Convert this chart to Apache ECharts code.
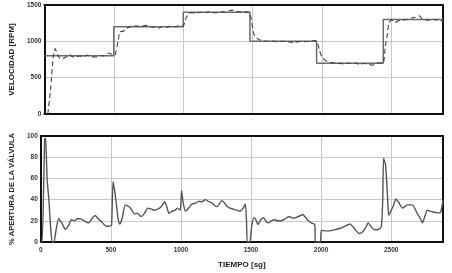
<!DOCTYPE html>
<html>
<head>
<meta charset="utf-8">
<script src="https://cdn.jsdelivr.net/npm/echarts@6/dist/echarts.min.js"></script>
<style>
html,body{margin:0;padding:0;background:#fff;}
#chart{width:452px;height:273px;}
</style>
</head>
<body>
<div id="chart"></div>
<script>
// Setpoint (solid step line)
var setpointTimes = [0, 500, 1000, 1480, 1960, 2440, 2870];
var setpointValues = [800, 1200, 1400, 1000, 700, 1300, 1300];

// Measured speed (dashed)
var speedTimes = [25,45,63,77,95,110,130,160,180,200,225,250,280,310,340,370,400,430,460,495,
  510,530,545,570,590,615,640,670,700,730,760,790,820,850,880,910,940,970,995,
  1010,1020,1040,1060,1090,1120,1150,1180,1210,1240,1270,1300,1330,1360,1390,1420,1450,1475,
  1490,1505,1520,1540,1570,1600,1640,1680,1720,1760,1800,1840,1880,1920,1950,
  1965,1980,2000,2030,2060,2090,2120,2150,2180,2210,2240,2270,2300,2330,2360,2390,2420,2440,
  2455,2470,2480,2500,2525,2550,2580,2610,2640,2665,2700,2720,2740,2770,2800,2830,2850,2870];
var speedValues = [0,350,770,900,820,770,760,790,820,790,780,800,790,810,790,785,805,800,840,815,
  820,1000,1130,1140,1180,1200,1215,1210,1205,1220,1205,1190,1180,1200,1195,1210,1200,1215,1210,
  1250,1320,1380,1395,1385,1400,1390,1405,1395,1395,1410,1400,1420,1430,1410,1405,1405,1395,
  1300,1120,1060,1030,1010,1000,1005,995,1000,990,985,1000,995,1005,1010,
  990,880,780,730,710,705,700,690,700,695,705,680,695,690,670,700,705,700,
  930,1110,1250,1295,1260,1285,1290,1300,1320,1330,1350,1310,1300,1290,1300,1295,1290,1270];

// Valve opening (%)
var valveTimes = [0,10,28,35,45,58,70,82,94,110,128,150,176,200,218,240,260,282,310,340,365,387,410,434,455,469,490,505,
  516,528,540,552,563,580,603,620,634,650,669,690,716,740,763,790,810,835,857,885,900,915,935,960,975,995,
  1005,1015,1033,1055,1080,1103,1127,1150,1174,1200,1220,1244,1260,1291,1310,1326,1350,1373,1400,1420,1445,1460,1468,1474,1491,
  1505,1521,1535,1549,1570,1590,1610,1625,1645,1667,1690,1713,1740,1772,1800,1820,1854,1866,1885,1901,1930,1955,1960,1995,
  2002,2040,2080,2110,2140,2171,2206,2230,2254,2270,2300,2320,2336,2360,2382,2410,2430,2440,2446,2460,2474,2483,
  2500,2512,2535,2555,2582,2617,2652,2675,2688,2710,2723,2740,2758,2793,2830,2852,2865,2870];
var valveValues = [0,0,97,98,60,40,15,0,0,12,22,18,12,16,21,20,22,22,20,18,22,25,22,19,16,14.8,15,16,
  57,48,35,22,17,22,35,34,33,30,26.5,27,24,27,32,31,30,31,33,38,33,27,29,30,32,30,
  48.6,38,29,32,36,36.5,38.3,38,40,38,37,34,33.5,39,37,34,32,31,30,29,32,36,20,0,0,
  15,23,21,16.5,21,23,19,18,20,21,20,20,21.5,24,22.5,23,25,26,24,21,18,16.4,0,0,
  10.8,10.5,11,12,13,15,17,14,10,8,10,14,18,14,11.5,12,14.8,40,79,73,43,25,
  30,33,40.5,37,32,35,35,30,26.5,22,18,24,30,28.5,27.5,28,35,40];

var speedYTicks = [0, 500, 1000, 1500];
var valveYTicks = [0, 20, 40, 60, 80, 100];
var timeTicks = [0, 500, 1000, 1500, 2000, 2500];
var timeMax = 2870;

function pairs(xs, ys) { return xs.map(function (x, i) { return [x, ys[i]]; }); }

var font = 'Liberation Sans, Arial, sans-serif';
var labelStyle = { fontFamily: font, fontSize: 6.5, fontWeight: 'bold', color: '#333',
  formatter: function (v) { return String(v); } };
var gridLine = { show: true, lineStyle: { color: '#c8c8c8', width: 1 } };
var frame = { show: true, onZero: false, lineStyle: { color: '#111', width: 2 } };
var nameStyle = { fontFamily: font, fontSize: 8, fontWeight: 'bold', color: '#222' };

function frameAxis(grid, pos, min, max) {
  return { gridIndex: grid, type: 'value', position: pos, min: min, max: max,
    axisLine: frame, axisTick: { show: false }, axisLabel: { show: false }, splitLine: { show: false } };
}

var chart = echarts.init(document.getElementById('chart'), null, { renderer: 'canvas' });
chart.setOption({
  animation: false,
  backgroundColor: '#fff',
  grid: [
    { left: 35, right: 9, top: 5, height: 109 },
    { left: 35, right: 9, top: 136, height: 106 }
  ],
  xAxis: [
    { gridIndex: 0, type: 'value', position: 'bottom', min: 0, max: timeMax, interval: timeTicks[1] - timeTicks[0],
      axisLine: frame, axisTick: { show: false }, axisLabel: { show: false }, splitLine: gridLine },
    { gridIndex: 1, type: 'value', position: 'bottom', min: 0, max: timeMax, interval: timeTicks[1] - timeTicks[0],
      axisLine: frame, axisTick: { show: false },
      axisLabel: Object.assign({ margin: 5, showMaxLabel: false }, labelStyle),
      splitLine: gridLine,
      name: 'TIEMPO [sg]', nameLocation: 'middle', nameGap: 19, nameTextStyle: nameStyle },
    frameAxis(0, 'top', 0, timeMax),
    frameAxis(1, 'top', 0, timeMax)
  ],
  yAxis: [
    { gridIndex: 0, type: 'value', position: 'left', min: speedYTicks[0], max: speedYTicks[speedYTicks.length - 1], interval: 500,
      axisLine: frame, axisTick: { show: false },
      axisLabel: Object.assign({ margin: 3 }, labelStyle), splitLine: gridLine,
      name: 'VELOCIDAD [RPM]', nameLocation: 'middle', nameGap: 23, nameTextStyle: nameStyle },
    { gridIndex: 1, type: 'value', position: 'left', min: valveYTicks[0], max: valveYTicks[valveYTicks.length - 1], interval: 20,
      axisLine: frame, axisTick: { show: false },
      axisLabel: Object.assign({ margin: 3 }, labelStyle), splitLine: gridLine,
      name: '% APERTURA DE LA VÁLVULA', nameLocation: 'middle', nameGap: 23,
      nameTextStyle: Object.assign({}, nameStyle, { fontSize: 7.5 }) },
    frameAxis(0, 'right', 0, 1500),
    frameAxis(1, 'right', 0, 100)
  ],
  series: [
    { type: 'line', xAxisIndex: 0, yAxisIndex: 0, step: 'end', showSymbol: false,
      data: pairs(setpointTimes, setpointValues),
      lineStyle: { color: '#6a6a6a', width: 1.5 } },
    { type: 'line', xAxisIndex: 0, yAxisIndex: 0, showSymbol: false, smooth: 0.2,
      data: pairs(speedTimes, speedValues),
      lineStyle: { color: '#444', width: 1.1, type: [5, 3] } },
    { type: 'line', xAxisIndex: 1, yAxisIndex: 1, showSymbol: false, smooth: 0.2,
      data: pairs(valveTimes, valveValues),
      lineStyle: { color: '#555', width: 1.4 } }
  ]
});
</script>
</body>
</html>
